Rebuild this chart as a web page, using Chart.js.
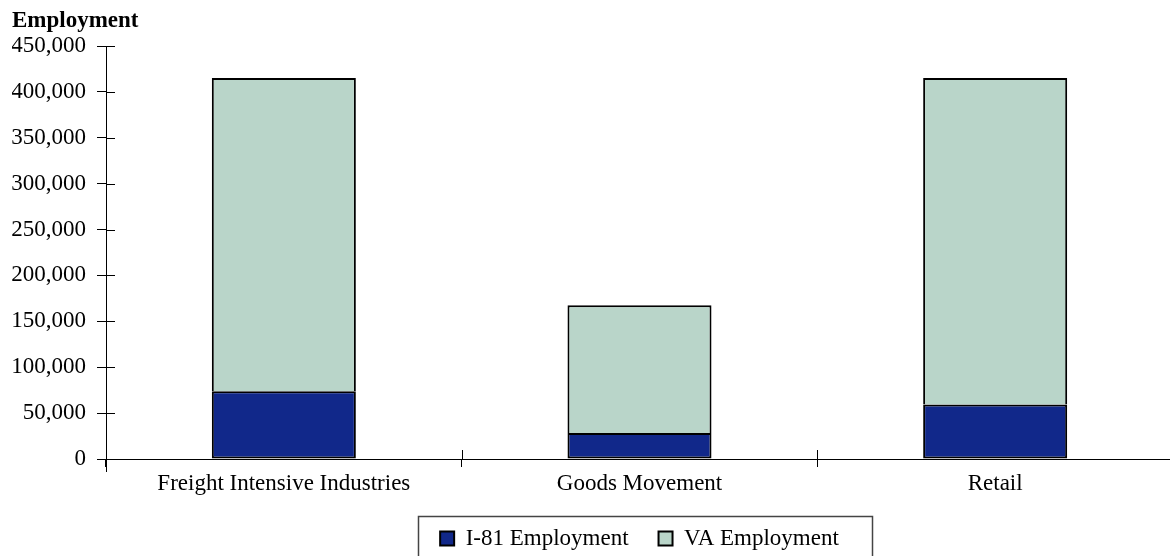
<!DOCTYPE html>
<html>
<head>
<meta charset="utf-8">
<script src="https://cdn.jsdelivr.net/npm/chart.js@4/dist/chart.umd.min.js"></script>
<style>
  html, body { margin: 0; padding: 0; background: #fff; overflow: hidden; }
  #wrap { width: 1170px; height: 556px; overflow: hidden; position: relative; }
  #c { display: block; }
</style>
</head>
<body>
<div id="wrap"><canvas id="c" width="1173" height="560"></canvas></div>
<script>
// Employment by sector: I-81 corridor share stacked under the rest of Virginia
const categories = ['Freight Intensive Industries', 'Goods Movement', 'Retail'];
const i81Employment = [73900, 28400, 59400];
const vaEmployment = [341100, 139200, 355600];
const seriesNames = ['I-81 Employment', 'VA Employment'];
const yMax = 450000;
const yStep = 50000;

const FONT = "'Liberation Serif', 'Times New Roman', serif";
const INK = '#000';
const LEGEND_FRAME_W = 454;

// Tick marks that cross the axes, the y-axis stub below zero, and the legend frame
const axisDecor = {
  id: 'axisDecor',
  afterDraw(chart) {
    const { ctx, chartArea: a, scales: { x, y } } = chart;
    ctx.save();
    ctx.strokeStyle = INK;
    ctx.lineWidth = 1;
    ctx.beginPath();
    y.ticks.forEach((t, i) => {
      const py = Math.round(y.getPixelForTick(i)) + 0.5;
      ctx.moveTo(a.left, py);
      ctx.lineTo(a.left + 9, py);
    });
    for (let i = 1; i < categories.length; i++) {
      const px = Math.round(x.getPixelForValue(i - 0.5)) + 0.5;
      ctx.moveTo(px, a.bottom);
      ctx.lineTo(px, a.bottom - 9);
    }
    const lx = Math.round(a.left) + 0.5;
    ctx.moveTo(lx, a.bottom);
    ctx.lineTo(lx, a.bottom + 13);
    ctx.stroke();

    const boxes = chart.legend && chart.legend.legendHitBoxes;
    if (boxes && boxes.length) {
      let l = Infinity, r = -Infinity, t = Infinity, b = -Infinity;
      boxes.forEach(h => {
        l = Math.min(l, h.left); r = Math.max(r, h.left + h.width);
        t = Math.min(t, h.top); b = Math.max(b, h.top + h.height);
      });
      const fl = l - 10, fr = r + 20;
      const extra = Math.max(0, (LEGEND_FRAME_W - (fr - fl)) / 2);
      ctx.strokeStyle = '#444';
      ctx.lineWidth = 1.5;
      ctx.strokeRect(Math.round(fl - extra) + 0.5, Math.round(t - 11) + 0.5,
                     Math.round(fr - fl + 2 * extra), Math.round(b - t + 40));
    }
    ctx.restore();
  }
};

new Chart(document.getElementById('c'), {
  type: 'bar',
  data: {
    labels: categories,
    datasets: [
      {
        label: seriesNames[0],
        data: i81Employment,
        backgroundColor: '#11288a',
        borderColor: INK,
        borderWidth: 2,
        borderSkipped: false,
        barPercentage: 0.405,
        categoryPercentage: 1.0
      },
      {
        label: seriesNames[1],
        data: vaEmployment,
        backgroundColor: '#b9d5c9',
        borderColor: INK,
        borderWidth: 2,
        barPercentage: 0.405,
        categoryPercentage: 1.0
      }
    ]
  },
  options: {
    responsive: false,
    animation: false,
    devicePixelRatio: 1,
    layout: { padding: { left: 12, right: 0, top: 0, bottom: 0 } },
    plugins: {
      title: {
        display: true,
        text: 'Employment',
        align: 'start',
        color: INK,
        font: { family: FONT, size: 23, weight: 'bold' },
        padding: { top: 7, bottom: 11.4 }
      },
      legend: {
        position: 'bottom',
        fullSize: false,
        labels: {
          color: INK,
          font: { family: FONT, size: 23 },
          boxWidth: 14,
          boxHeight: 14,
          padding: 30
        }
      },
      tooltip: { enabled: false }
    },
    scales: {
      x: {
        stacked: true,
        offset: true,
        grid: { drawOnChartArea: false, drawTicks: true, tickLength: 8, color: INK, offset: true },
        border: { color: INK, width: 1 },
        ticks: { color: INK, font: { family: FONT, size: 23 }, padding: 3, maxRotation: 0 },
        afterFit(scale) { scale.height = 38; }
      },
      y: {
        stacked: true,
        min: 0,
        max: yMax,
        grid: { drawOnChartArea: false, drawTicks: true, tickLength: 9, color: INK },
        border: { color: INK, width: 1 },
        ticks: {
          stepSize: yStep,
          color: INK,
          padding: 11,
          font: { family: FONT, size: 23 },
          callback: v => v.toLocaleString('en-US')
        },
        afterFit(scale) { scale.width = 94; }
      }
    }
  },
  plugins: [axisDecor]
});
</script>
</body>
</html>
